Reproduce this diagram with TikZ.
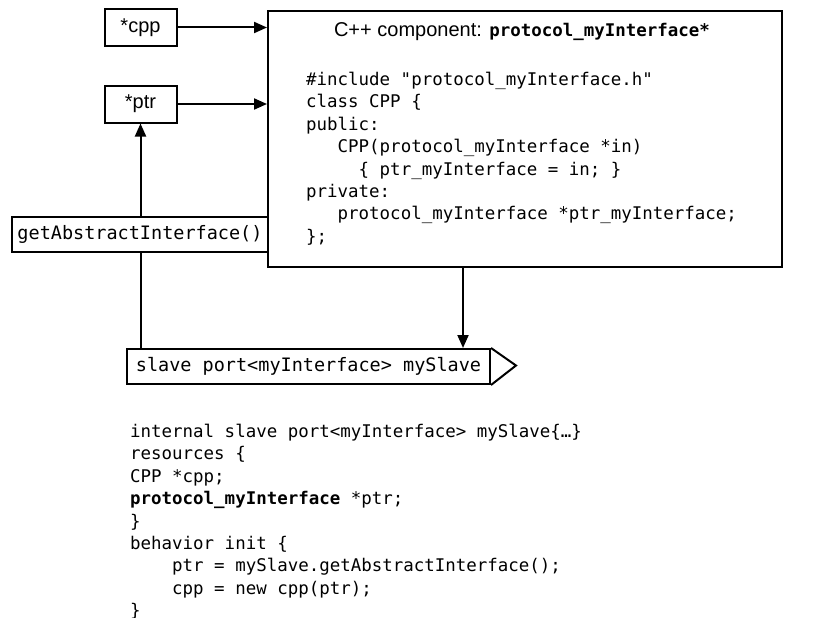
\documentclass[tikz,border=0pt]{standalone}
\usepackage{fontspec}
\setmainfont{Liberation Sans}
\setmonofont{DejaVu Sans Mono}
\usetikzlibrary{arrows.meta}
\newcommand{\codefont}{\fontsize{17.45}{22.4}\selectfont\ttfamily}
\newcommand{\boxfont}{\fontsize{18.5}{22}\selectfont\ttfamily}
\tikzstyle{component}=[rectangle,
	line width=2pt,
	draw=black,
	minimum width=514pt,
	minimum height=256pt]
\tikzstyle{pointer}=[rectangle,
	line width=2pt,
	draw=black,
	fill=white,
	font=\fontsize{20}{24}\selectfont,
	minimum width=72pt,
	minimum height=37pt]
\tikzstyle{call}=[rectangle,
	line width=2pt,
	draw=black,
	fill=white,
	font=\boxfont,
	minimum width=256pt,
	minimum height=35pt]
\tikzstyle{port}=[rectangle,
	line width=2pt,
	draw=black,
	fill=white,
	font=\boxfont,
	minimum width=363pt,
	minimum height=35pt]
\tikzstyle{code}=[align=left,
	inner sep=0pt,
	font=\codefont]
\tikzstyle{link}=[line width=2pt,
	-{Triangle[length=13pt,width=11pt]}]

\begin{document}
\begin{tikzpicture}[x=1pt,y=-1pt]
	\useasboundingbox (0,0) rectangle (816,618);
	% C++ component
	\node (comp) [component] at (525,139) {};
	\node (title) at (522,32) {\fontsize{20}{24}\selectfont C++ component: {\codefont\bfseries protocol\_myInterface*}};
	\node (cppcode) [code, anchor=north west] at (306,72) {\#include "protocol\_myInterface.h"\\
		class CPP \{\\
		public:\\
		\phantom{xxx}CPP(protocol\_myInterface *in)\\
		\phantom{xxxxx}\{ ptr\_myInterface = in; \}\\
		private:\\
		\phantom{xxx}protocol\_myInterface *ptr\_myInterface;\\
		\};};

	% pointers
	\node (cpp) [pointer] at (140.5,27.5) {*cpp};
	\draw[link] (cpp) -- (cpp -| comp.west);
	\node (ptr) [pointer, below of=cpp, node distance=76.5pt] {*ptr};
	\draw[link] (ptr) -- (ptr -| comp.west);

	% slave port
	\node (slave) [port] at (308.5,366.5) {slave port<myInterface> mySlave};
	\draw[line width=2pt, line join=miter] (slave.north east) -- ++(25,17.5) -- (slave.south east);
	\draw[link] ([xshift=-28pt]slave.north east |- comp.south) -- ([xshift=-28pt]slave.north east);
	\draw[link] (ptr.south |- slave.north) -- (ptr.south);
	\node (getai) [call] at (140,234.5) {getAbstractInterface()};

	% behavior
	\node (behav) [code, anchor=north west] at (130,424) {internal slave port<myInterface> mySlave\{…\}\\
		resources \{\\
		CPP *cpp;\\
		\textbf{protocol\_myInterface} *ptr;\\
		\}\\
		behavior init \{\\
		\phantom{xxxx}ptr = mySlave.getAbstractInterface();\\
		\phantom{xxxx}cpp = new cpp(ptr);\\
		\}};
\end{tikzpicture}
\end{document}
